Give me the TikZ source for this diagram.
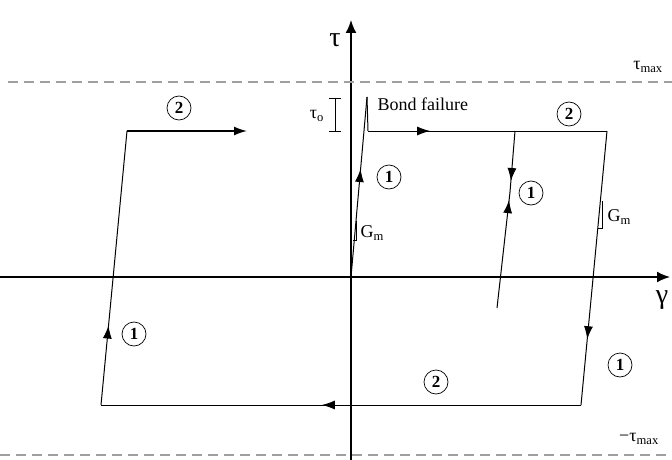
\documentclass[tikz,border=0pt]{standalone}
\usepackage{fontspec}
\setmainfont{Liberation Serif}
\usetikzlibrary{arrows.meta,decorations.markings}

\begin{document}
\begin{tikzpicture}[
    x=1pt,
    y=-1pt,
    axis/.style={
        line width=1.8pt,
        -{Latex[length=13pt,width=11pt]}
    },
    limit/.style={
        gray!75,
        line width=1.3pt,
        dash pattern=on 10pt off 6pt
    },
    branch/.style={
        line width=1pt
    },
    midarrow/.style={
        postaction={decorate},
        decoration={markings,
            mark=at position #1 with {\arrow{Latex[length=13pt,width=9pt]}}}
    },
    num/.style={
        circle,
        draw,
        line width=0.7pt,
        minimum size=24pt,
        inner sep=0pt,
        font=\fontsize{17}{17}\selectfont\bfseries
    },
    lbl/.style={
        font=\fontsize{18}{18}\selectfont
    }
]

\useasboundingbox (0,0) rectangle (672,460);

% corner points of the cycle
\coordinate (o) at (351,277);
\coordinate (peak) at (367,97);
\coordinate (fail) at (368,131);
\coordinate (rtop) at (607,131);
\coordinate (rbot) at (581,405);
\coordinate (lbot) at (101,405);
\coordinate (ltop) at (127,131);
\coordinate (lend) at (247,131);
\coordinate (unl) at (515,131);
\coordinate (rel) at (497,308);
\coordinate (meet) at (510,192);

% axes
\coordinate (xa) at (0,277);
\coordinate (xb) at (670,277);
\coordinate (ya) at (351,460);
\coordinate (yb) at (351,20);
\draw[axis] (xa) -- (xb);
\draw[axis] (ya) -- (yb);
\node[font=\fontsize{28}{28}\selectfont] (tau) at (335,40) {τ};
\node[font=\fontsize{28}{28}\selectfont] (gam) at (662,300) {γ};

% shear strength limits
\coordinate (ta) at (8,82);
\coordinate (tb) at (672,82);
\coordinate (ba) at (0,455);
\coordinate (bb) at (672,455);
\draw[limit] (ta) -- (tb);
\draw[limit] (ba) -- (bb);
\node[lbl] (tmax) at (648,67) {τ\textsubscript{max}};
\node[lbl] (mtmax) at (639,439) {−τ\textsubscript{max}};

% loading and bond failure
\draw[branch, midarrow=0.6] (o) -- (peak);
\draw[branch] (peak) -- (fail);
\draw[branch, midarrow=0.26] (fail) -- (rtop);
\node[lbl, anchor=west] (bond) at (374,104) {Bond failure};

% tau_o bracket
\coordinate (ba1) at (335,98);
\coordinate (ba2) at (335,131);
\draw[thin] (ba1) -- (ba2);
\draw[thin] ([xshift=-6pt]ba1) -- ([xshift=6pt]ba1);
\draw[thin] ([xshift=-6pt]ba2) -- ([xshift=6pt]ba2);
\node[lbl] (tauo) at (317,116) {τ\textsubscript{o}};

% unloading / reloading loop
\draw[branch, midarrow=0.76] (rtop) -- (rbot);
\draw[branch, midarrow=0.54] (rbot) -- (lbot);
\draw[branch, midarrow=0.29] (lbot) -- (ltop);
\draw[line width=1.6pt, -{Latex[length=13pt,width=9pt]}] (ltop) -- (lend);

% inner branch
\draw[branch, midarrow=0.82] (unl) -- (meet);
\draw[branch, midarrow=0.93] (rel) -- (meet);

% slope marks
\coordinate (g1a) at (356,221);
\coordinate (g1b) at (356,240);
\coordinate (g1c) at (353,240);
\draw[thin] (g1a) -- (g1b) -- (g1c);
\node[lbl, anchor=west] (gm1) at (357,233) {G\textsubscript{m}};
\coordinate (g2a) at (602,201);
\coordinate (g2b) at (602,228);
\coordinate (g2c) at (598,228);
\draw[thin] (g2a) -- (g2b) -- (g2c);
\node[lbl, anchor=west] (gm2) at (604,217) {G\textsubscript{m}};

% branch numbers
\node[num] (n1) at (179,108) {2};
\node[num] (n2) at (389,177) {1};
\node[num] (n3) at (569,114) {2};
\node[num] (n4) at (531,193) {1};
\node[num] (n5) at (134,334) {1};
\node[num] (n6) at (436,382) {2};
\node[num] (n7) at (620,365) {1};

\end{tikzpicture}
\end{document}
